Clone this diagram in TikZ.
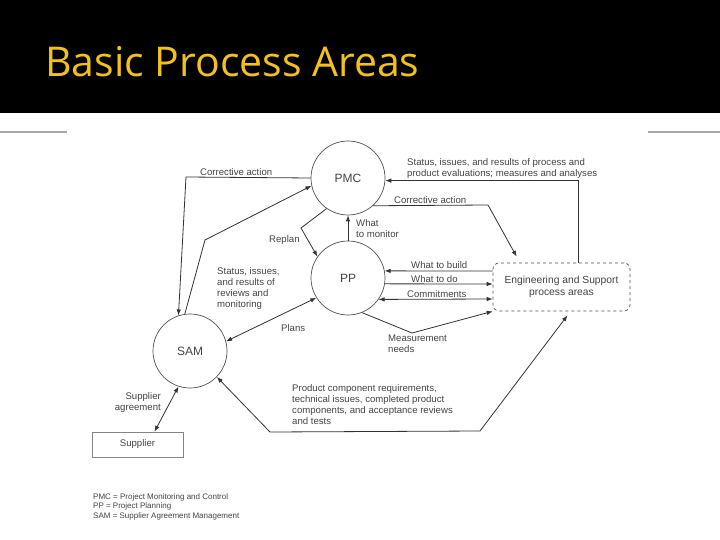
\documentclass[tikz,border=0pt]{standalone}
\usepackage{fontspec}
\setmainfont{Liberation Sans}
\newfontfamily\titlefont{Open Sans}
\usetikzlibrary{arrows.meta,calc}
\definecolor{titleyellow}{HTML}{F2C21A}
\definecolor{ink}{HTML}{333333}
\definecolor{txt}{HTML}{444444}
\definecolor{rulegray}{HTML}{A8A8A8}
\begin{document}
\begin{tikzpicture}[x=1pt,y=-1pt,
  circ/.style={circle, draw=ink!85, line width=0.7pt, minimum size=74pt, inner sep=0pt,
    font=\fontsize{12}{14}\selectfont, text=txt},
  lbl/.style={font=\fontsize{9.6}{10.8}\selectfont, text=txt, inner sep=0pt, align=left},
  legend/.style={font=\fontsize{8}{9.5}\selectfont, text=txt, inner sep=0pt, align=left},
  arr/.style={draw=ink, line width=0.8pt, -{Latex[length=6pt,width=4.5pt]}},
  darr/.style={draw=ink, line width=0.8pt, {Latex[length=6pt,width=4.5pt]}-{Latex[length=6pt,width=4.5pt]}},
  link/.style={draw=ink, line width=0.8pt}]
\useasboundingbox (0,0) rectangle (720,540);
\fill[white] (0,0) rectangle (720,540);
\fill[black] (0,0) rectangle (720,113);
\node[anchor=base west, font=\titlefont\fontsize{41}{48}\selectfont, text=titleyellow, inner sep=0pt] (title) at (45,77) {Basic Process Areas};
\draw[rulegray, line width=2.5pt] (0,132) -- (67,132);
\draw[rulegray, line width=2.5pt] (648,132) -- (720,132);

% main nodes
\node[circ] (pmc) at (348,178) {PMC};
\node[circ] (pp) at (348,278) {PP};
\node[circ] (sam) at (190,351) {SAM};
\node[draw=ink!85, dashed, line width=0.7pt, rounded corners=6pt, minimum width=137pt, minimum height=48pt,
  inner sep=0pt, align=center, font=\fontsize{10.3}{11.5}\selectfont, text=txt] (esp) at (561.5,287)
  {Engineering and Support\\process areas};
\node[draw=ink!60, line width=0.7pt, minimum width=91pt, minimum height=25pt, inner sep=0pt,
  font=\fontsize{9.6}{11}\selectfont, text=txt] (sup) at (137.5,444.5) {Supplier};

% connectors
\draw[arr] (pmc.west) -- (186,177) -- (sam.108);
\draw[arr] (sam.98) -- (205,240) -- (pmc.192);
\draw[arr] (pmc.235) -- (301,228) -- (pp.145);
\draw[arr] (pp.north) -- (pmc.south);
\draw[arr] ([xshift=16.5pt]esp.north) |- (pmc.356);
\draw[arr] (pmc.312) -- (488,205) -- ([xshift=24pt,yshift=6pt]esp.north west);
\draw[arr] ([yshift=16pt]esp.west) -- (pp.11);
\draw[arr] (pp.351) -- ([yshift=3pt]esp.west);
\draw[darr] (pp.325) -- ([yshift=-12pt]esp.west);
\draw[arr] (pp.292) -- (412,333) -- (esp.south west);
\draw[darr] (sam.15) -- (pp.212);
\draw[darr] (sam.316) -- (270,432) -- (480,431) -- ([xshift=6pt,yshift=-4pt]esp.south);
\draw[darr] (sam.252) -- ([xshift=17pt]sup.north);

% labels (anchor = baseline of the last line)
\node[lbl, anchor=base west] (l1) at (200,176) {Corrective action};
\node[lbl, anchor=base west] (l2) at (407,176.5) {Status, issues, and results of process and\\product evaluations; measures and analyses};
\node[lbl, anchor=base west] (l3) at (394,204) {Corrective action};
\node[lbl, anchor=base west] (l4) at (356,237) {What\\to monitor};
\node[lbl, anchor=base west] (l5) at (269,242) {Replan};
\node[lbl, anchor=base west] (l6) at (411,268) {What to build};
\node[lbl, anchor=base west] (l7) at (411,282) {What to do};
\node[lbl, anchor=base west] (l8) at (407,297) {Commitments};
\node[lbl, anchor=base west] (l9) at (217,307) {Status, issues,\\and results of\\reviews and\\monitoring};
\node[lbl, anchor=base west] (l10) at (281,331) {Plans};
\node[lbl, anchor=base west] (l11) at (388,352) {Measurement\\needs};
\node[lbl, anchor=base west] (l12) at (292,424) {Product component requirements,\\technical issues, completed product\\components, and acceptance reviews\\and tests};
\node[lbl, anchor=base east, align=right] (l13) at (161,410) {Supplier\\agreement};
\node[legend, anchor=base west] (leg) at (93,518) {PMC = Project Monitoring and Control\\PP = Project Planning\\SAM = Supplier Agreement Management};
\end{tikzpicture}
\end{document}
